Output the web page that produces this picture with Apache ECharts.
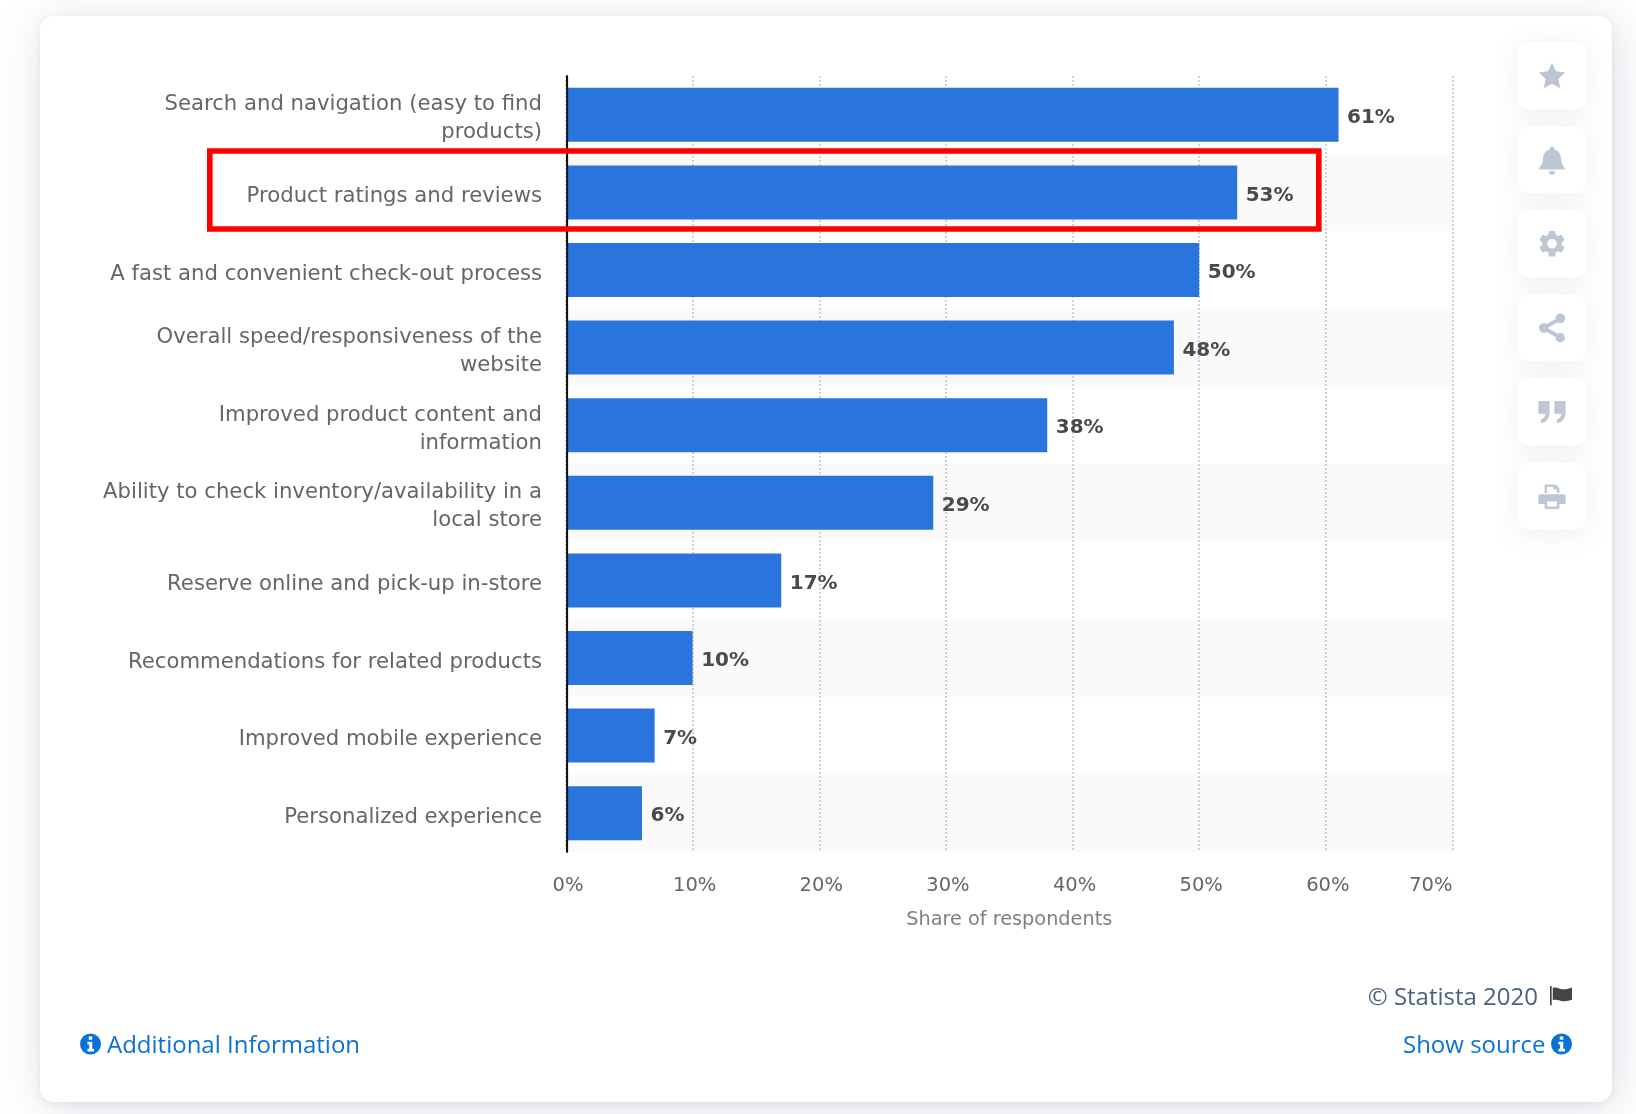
<!DOCTYPE html>
<html><head><meta charset="utf-8">
<style>
html,body{margin:0;padding:0;width:1636px;height:1114px;overflow:hidden;background:#fff}
#card{position:absolute;left:40px;top:16px;width:1572px;height:1086px;border-radius:14px;background:#fff;box-shadow:4px 6px 48px rgba(110,125,150,.24),0 2px 6px rgba(110,125,150,.12)}
.btn{position:absolute;left:1518px;width:68px;height:68px;border-radius:11px;background:#fff;box-shadow:0 4px 26px rgba(120,135,160,.13)}
#chart{position:absolute;left:0;top:0;width:1636px;height:1114px}
</style>
<script src="https://cdn.jsdelivr.net/npm/echarts@6/dist/echarts.min.js"></script>
</head><body>
<div id="card"></div>
<div class="btn" style="top:42px"></div><div class="btn" style="top:126px"></div><div class="btn" style="top:210px"></div>
<div class="btn" style="top:294px"></div><div class="btn" style="top:378px"></div><div class="btn" style="top:462px"></div>
<div id="chart"></div>
<script>
const categories = [
  "Search and navigation (easy to find\nproducts)",
  "Product ratings and reviews",
  "A fast and convenient check-out process",
  "Overall speed/responsiveness of the\nwebsite",
  "Improved product content and\ninformation",
  "Ability to check inventory/availability in a\nlocal store",
  "Reserve online and pick-up in-store",
  "Recommendations for related products",
  "Improved mobile experience",
  "Personalized experience"
];
const shareOfRespondents = [61, 53, 50, 48, 38, 29, 17, 10, 7, 6];
const axisTitle = "Share of respondents";
const copyrightText = "© Statista 2020";
const infoText = "Additional Information";
const sourceText = "Show source";

const iconPaths = {
  star: "M12 1l3.4 7.4 8 1-5.9 5.5 1.6 8L12 19l-7.1 4 1.6-8L.6 9.4l8-1z",
  bell: "M12 0a2 2 0 0 1 2 2v.6C18 3.5 20 7 20 11c0 4 1.5 6 3.5 8v1.5h-23V19C2.5 17 4 15 4 11c0-4 2-7.5 6-8.4V2a2 2 0 0 1 2-2zM9 22h6a3 3 0 0 1-6 0z",
  gear: "M19.14 12.94c.04-.3.06-.61.06-.94 0-.32-.02-.64-.07-.94l2.03-1.58a.49.49 0 0 0 .12-.61l-1.92-3.32a.488.488 0 0 0-.59-.22l-2.39.96c-.5-.38-1.03-.7-1.62-.94l-.36-2.54a.484.484 0 0 0-.48-.41h-3.84c-.24 0-.43.17-.47.41l-.36 2.54c-.59.24-1.13.57-1.62.94l-2.39-.96c-.22-.08-.47 0-.59.22L2.74 8.87c-.12.21-.08.47.12.61l2.03 1.58c-.05.3-.09.63-.09.94s.02.64.07.94l-2.03 1.58a.49.49 0 0 0-.12.61l1.92 3.32c.12.22.37.29.59.22l2.39-.96c.5.38 1.03.7 1.62.94l.36 2.54c.05.24.24.41.48.41h3.84c.24 0 .44-.17.47-.41l.36-2.54c.59-.24 1.13-.56 1.62-.94l2.39.96c.22.08.47 0 .59-.22l1.92-3.32c.12-.22.07-.47-.12-.61l-2.01-1.58zM12 15.6c-1.98 0-3.6-1.62-3.6-3.6s1.62-3.6 3.6-3.6 3.6 1.62 3.6 3.6-1.62 3.6-3.6 3.6z",
  share: "M18 16.08c-.76 0-1.44.3-1.96.77L8.91 12.7c.05-.23.09-.46.09-.7s-.04-.47-.09-.7l7.05-4.11c.54.5 1.25.81 2.04.81 1.66 0 3-1.34 3-3s-1.34-3-3-3-3 1.34-3 3c0 .24.04.47.09.7L8.04 9.81C7.5 9.31 6.79 9 6 9c-1.66 0-3 1.34-3 3s1.34 3 3 3c.79 0 1.5-.31 2.04-.81l7.12 4.16c-.05.21-.08.43-.08.65 0 1.61 1.31 2.92 2.92 2.92s2.92-1.31 2.92-2.92-1.31-2.92-2.92-2.92z",
  quote: "M1 3h9v10c0 4-3 8-7 8v-3c2 0 3.5-2 3.5-4.5H1zM14 3h9v10c0 4-3 8-7 8v-3c2 0 3.5-2 3.5-4.5H14z",
  print: "M6 2h9l3 3v4h-2V6h-3V4H8v5H6zM3 10h18a2 2 0 0 1 2 2v6h-5v4H6v-4H1v-6a2 2 0 0 1 2-2zM8 16v4h8v-4z",
  infoDisc: "M12 0a12 12 0 1 0 0 24a12 12 0 1 0 0-24z",
  infoMark: "M10 3.5h4v3.5h-4zM8.5 9.5h5.5v8h2v3H8.5v-3h2v-5h-2z",
  flag: "M0 0h1.800v21H0zM3 2c4-1.500 7 1 10.500 1.500 3.500.300 7.500-1 10.500-2V15c-3 1-7 2-10.500 1.500C10 16 7 14 3 15.500z"
};
Object.keys(iconPaths).forEach(k => echarts.graphic.registerShape('icon_' + k, echarts.graphic.extendPath(iconPaths[k], {})));
const iconRow = [["star",75.500,28,0],["bell",160,27,0],["gear",243.700,32,0],["share",328,33,1],["quote",412,29.500,0],["print",496.700,29.500,0]];

function icon(name, x, y, w, fill, stroke){
  const style = {fill:fill};
  if (stroke) { style.stroke = fill; style.lineWidth = stroke; }
  return {type:'icon_' + name, z:100, x:x, y:y, scaleX:w/24, scaleY:w/24, style:style};
}
function label(t, x, y, font, fill, align){
  return {type:'text', z:100, style:{text:t, x:x, y:y, font:font, fill:fill, align:align, verticalAlign:'middle'}};
}
const blue = '#0a72d6';
const graphics = [
  {type:'line', z:99, shape:{x1:567.2,y1:76,x2:567.2,y2:852}, style:{stroke:'#111',lineWidth:1.8}},
  {type:'rect', z:100, shape:{x:209.8,y:151,width:1109,height:78}, style:{fill:'none',stroke:'#fe0000',lineWidth:5.6}},
  label(copyrightText,1538,998,'24px "Open Sans"','#4a6181','right'),
  icon('flag',1550,986,22,'#444'),
  label(infoText,107,1046,'24px "Open Sans"',blue,'left'),
  icon('infoDisc',80,1033.500,21,blue), icon('infoMark',80,1033.500,21,'#fff'),
  label(sourceText,1545.5,1046,'24px "Open Sans"',blue,'right'),
  icon('infoDisc',1551,1033.500,21,blue), icon('infoMark',1551,1033.500,21,'#fff')
];
iconRow.forEach(r=>graphics.push(icon(r[0],1552-r[2]/2,r[1]-r[2]/2,r[2],'#bdc6d3',r[3])));

const chart = echarts.init(document.getElementById('chart'), null, {renderer:'canvas'});
chart.setOption({
  animation:false,
  backgroundColor:'transparent',
  grid:{left:566, top:76, width:886.5, height:776, containLabel:false},
  xAxis:{
    type:'value', min:0, max:70, interval:10,
    name:axisTitle, nameLocation:'middle', nameGap:58,
    nameTextStyle:{color:'#808080', fontFamily:'DejaVu Sans', fontSize:19.3},
    axisLine:{show:false}, axisTick:{show:false},
    axisLabel:{formatter:'{value}%', color:'#666', fontFamily:'DejaVu Sans', fontSize:19.5, margin:24, padding:[0,0,0,4], alignMaxLabel:'right', showMaxLabel:true},
    splitLine:{show:true, lineStyle:{color:'#c8c8c8', width:1.6, type:[2,2]}}
  },
  yAxis:{
    type:'category', inverse:true, data:categories, offset:-1,
    axisLine:{show:true, lineStyle:{color:'#111', width:1.8}}, axisTick:{show:false},
    axisLabel:{color:'#666', fontFamily:'DejaVu Sans', fontSize:21.2, lineHeight:28, margin:25, align:'right', padding:[8,0,0,0], rich:{plain:{}}},
    splitArea:{show:true, areaStyle:{color:['#ffffff','#fafafa']}},
    splitLine:{show:false}
  },
  series:[{
    type:'bar', data:shareOfRespondents, barWidth:54, itemStyle:{color:'#2975dd'},
    label:{show:true, position:'right', distance:8.5, offset:[0,3], formatter:'{c}%', color:'#4a4a4a', fontFamily:'DejaVu Sans', fontWeight:'bold', fontSize:20}
  }],
  graphic:graphics
});
</script>
</body></html>
